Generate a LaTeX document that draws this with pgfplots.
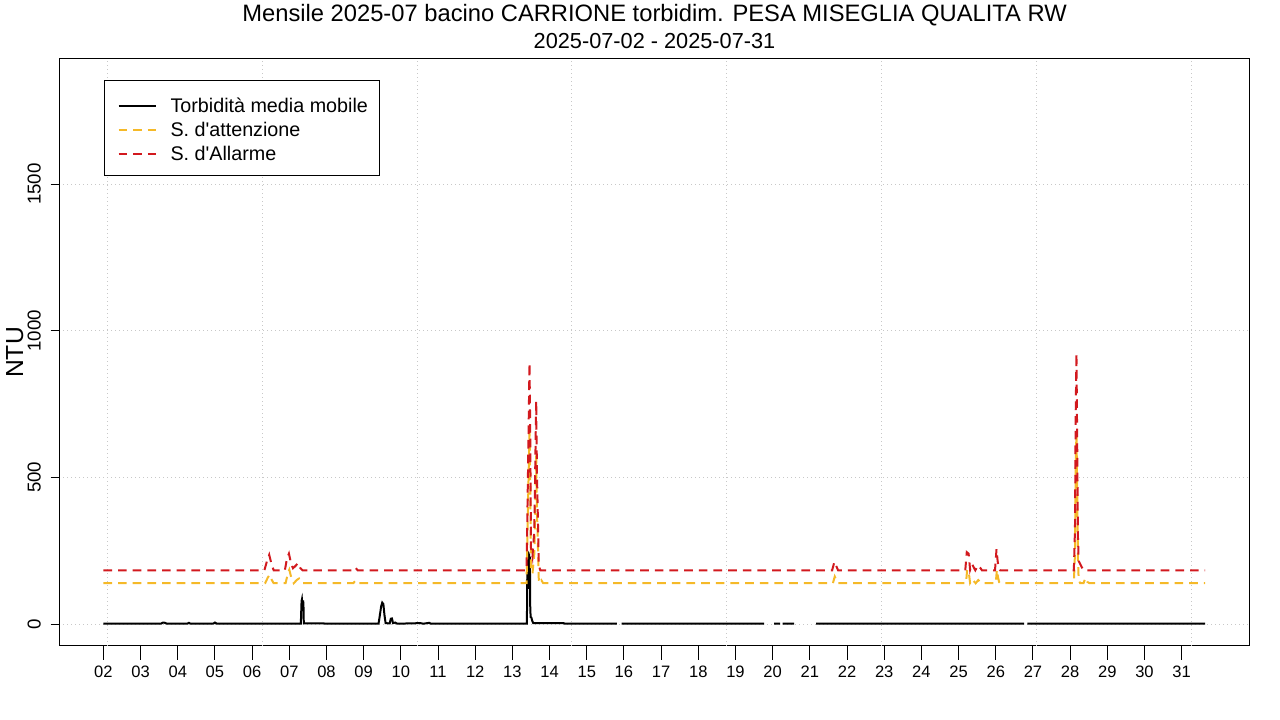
\documentclass[border=0pt]{standalone}
\usepackage{fontspec}
\setmainfont{Liberation Sans}
\usepackage{pgfplots}
\pgfplotsset{compat=1.18}
\definecolor{alarm}{RGB}{210,25,30}
\definecolor{attn}{RGB}{245,185,40}
\definecolor{gridc}{RGB}{200,200,200}

\pgfplotstableread{
x y
2.00 1
3.55 1
3.60 5
3.66 4
3.70 1
4.25 1
4.30 4
4.34 1
4.95 1
5.00 5
5.05 1
7.31 1
7.33 78
7.34 84
7.36 55
7.37 80
7.38 70
7.39 2
9.40 1
9.43 25
9.47 60
9.50 73
9.53 68
9.56 30
9.59 3
9.70 2
9.73 18
9.76 19
9.79 3
9.85 5
9.90 1
10.53 3
10.60 1
10.77 4
10.80 1
13.39 1
13.40 160
13.41 249
13.42 120
13.43 245
13.44 150
13.45 240
13.46 190
13.47 230
13.48 60
13.49 24
13.51 22
13.53 12
13.56 3
14.38 3
14.40 1
15.81 1
15.87 nan
15.94 1
19.77 1
19.90 nan
20.04 1
20.20 1
20.23 nan
20.27 1
20.58 1
20.90 nan
21.17 1
26.76 1
26.80 nan
26.85 1
31.63 1
}\turb

\pgfplotstableread{
x y
2.00 139
6.35 139
6.42 158
6.47 168
6.53 150
6.58 139
6.90 139
6.96 172
7.00 185
7.05 160
7.12 139
7.20 150
7.26 155
7.32 142
7.36 139
8.72 139
8.78 148
8.84 139
13.38 139
13.42 400
13.46 670
13.48 480
13.50 190
13.54 172
13.59 240
13.64 575
13.66 390
13.69 250
13.71 150
13.74 139
13.78 149
13.83 139
21.62 139
21.67 162
21.72 148
21.76 139
25.20 139
25.23 185
25.27 180
25.31 140
25.37 152
25.41 146
25.46 139
25.53 150
25.58 144
25.63 139
26.00 139
26.03 185
26.06 160
26.09 143
26.12 139
28.10 139
28.13 240
28.15 540
28.17 650
28.19 460
28.21 225
28.23 150
28.27 139
28.36 139
28.41 157
28.46 144
28.52 139
31.63 139
}\attention

\pgfplotstableread{
x y
2.00 183
6.33 183
6.40 215
6.46 236
6.52 205
6.58 183
6.88 183
6.94 225
6.99 240
7.05 205
7.10 190
7.18 200
7.24 208
7.30 190
7.36 183
8.72 183
8.78 192
8.84 183
13.38 183
13.42 520
13.46 890
13.48 650
13.50 260
13.54 230
13.59 320
13.64 760
13.66 520
13.69 330
13.71 200
13.75 183
21.60 183
21.66 212
21.72 195
21.76 183
25.18 183
25.22 245
25.27 240
25.31 185
25.36 205
25.40 195
25.45 183
25.52 200
25.58 192
25.63 183
25.98 183
26.02 255
26.05 215
26.08 190
26.12 183
28.10 183
28.13 320
28.15 720
28.17 923
28.19 620
28.21 300
28.23 215
28.27 205
28.32 192
28.37 183
31.63 183
}\alarmtab

\begin{document}
\begin{tikzpicture}
\useasboundingbox (0,0) rectangle (960pt,540pt);
\begin{axis}[
    at={(44.5pt,55.5pt)}, anchor=south west,
    scale only axis, width=892.5pt, height=440.25pt,
    xmin=0.815, xmax=32.82, ymin=-75, ymax=1927,
    axis line style={line width=0.75pt},
    tick align=outside, tick pos=left,
    major tick style={black, line width=0.75pt},
    xtick style={/pgfplots/major tick length=10.5pt},
    ytick style={/pgfplots/major tick length=6.5pt},
    xtick={2,...,31},
    xticklabels={02,03,04,05,06,07,08,09,10,11,12,13,14,15,16,17,18,19,20,21,22,23,24,25,26,27,28,29,30,31},
    ytick={0,500,1000,1500},
    /pgf/number format/assume math mode=true,
    /pgf/number format/1000 sep={},
    xticklabel style={font=\fontsize{12.4}{14}\selectfont, anchor=base, yshift=-19pt},
    yticklabel style={font=\fontsize{14}{16}\selectfont, xshift=-9.7pt, rotate=90, anchor=base},
    ylabel={NTU},
    ylabel style={font=\fontsize{18.5}{20}\selectfont, at={(axis description cs:-0.0305,0.5)}, anchor=base, rotate=0},
    ymajorgrids=true,
    extra x ticks={2.10,6.27,10.44,14.60,18.77,22.94,27.10,31.27},
    extra x tick labels={},
    extra x tick style={xmajorgrids=true, major tick length=0pt, tick style={draw=none}},
    major grid style={gridc, line width=0.75pt, dash pattern=on 0.75pt off 2.25pt},
    unbounded coords=jump,
    legend style={at={(0.03754,0.96422)}, anchor=north west, draw=black, line width=0.75pt,
        inner xsep=6pt, inner ysep=8.65pt, column sep=9.75pt, row sep=0pt,
        font=\fontsize{14.8}{17}\selectfont,
        nodes={inner xsep=3pt, inner ysep=0pt, text height=15.45pt, text depth=2.55pt},
        cells={anchor=base west}},
    legend cell align=left,
    legend image code/.code={\path[draw=none, fill=none, use as bounding box] (0pt,0pt) rectangle (30.75pt,6.05pt); \draw[#1] plot coordinates {(4.5pt,-1.8pt) (18.4pt,-1.8pt) (32.25pt,-1.8pt)};},
]
\addplot[black, line width=1.5pt] table[x=x,y=y] {\turb};
\addlegendentry{Torbidità media mobile}
\addplot[attn, line width=1.5pt, dash pattern=on 6.5pt off 4.5pt] table[x=x,y=y] {\attention};
\addlegendentry{S. d\textquotesingle attenzione}
\addplot[alarm, line width=1.5pt, dash pattern=on 6.5pt off 4.5pt] table[x=x,y=y] {\alarmtab};
\addlegendentry{S. d\textquotesingle Allarme}
\end{axis}
\node[anchor=base, font=\fontsize{17.8}{20}\selectfont] at (490.9pt,523.9pt) {Mensile 2025-07 bacino CARRIONE torbidim. PESA MISEGLIA QUALITA RW};
\node[anchor=base, font=\fontsize{16.3}{19}\selectfont] at (490.9pt,503.6pt) {2025-07-02 - 2025-07-31};
\end{tikzpicture}
\end{document}
